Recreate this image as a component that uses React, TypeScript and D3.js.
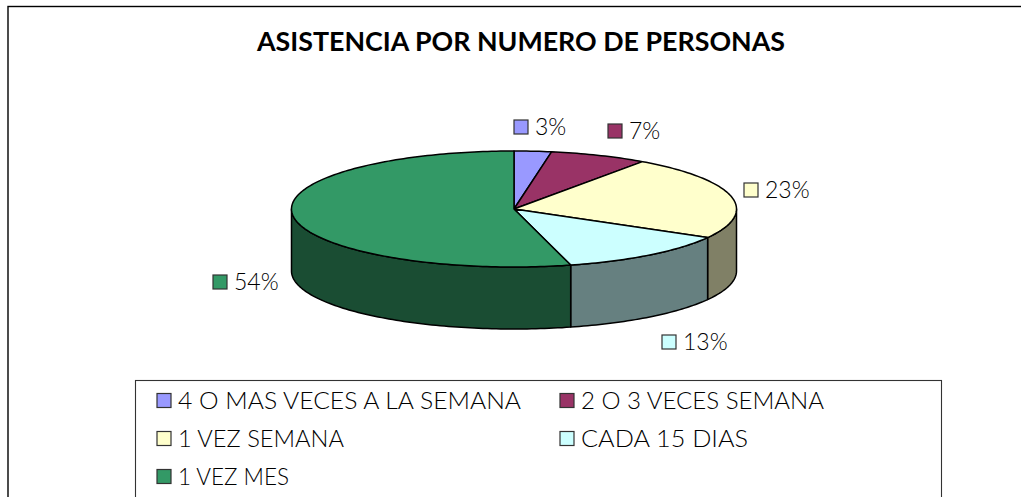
import React from 'react';
import * as d3 from 'd3';

const categories = ['4 O MAS VECES A LA SEMANA', '2 O 3 VECES SEMANA', '1 VEZ SEMANA', 'CADA 15 DIAS', '1 VEZ MES'];
const shares = [2.7, 7.1, 23.4, 12.7, 54.1];
const colors = ['#9999FF', '#993366', '#FFFFCC', '#CCFFFF', '#339966'];
const sideColors = ['#4D4D80', '#4D1A33', '#808066', '#668080', '#1A4D33'];
const title = 'ASISTENCIA POR NUMERO DE PERSONAS';

const FONT = 'Lato, "Open Sans", sans-serif';
const cx = 514, cy = 209, rx = 222.5, ry = 58, depth = 62;

// labels sit by hand next to each slice, same as the office chart
const labelPos = [[514, 127], [608, 131], [744, 190], [662, 342], [213, 282]];
const legendPos = [[157, 401], [560, 401], [157, 439], [560, 439], [157, 477]];
// the original font is wider than Lato, so stretch the legend to the same widths
const legendWidths = [343, 243, 166, 167, 111];

const pt = (a: number, dy = 0): [number, number] => [cx + rx * Math.sin(a), cy - ry * Math.cos(a) + dy];
const line = d3.line();

function rim(a0: number, a1: number, dy = 0) {
  const n = Math.max(2, Math.ceil((a1 - a0) / 0.02));
  return d3.range(n + 1).map(i => pt(a0 + (a1 - a0) * i / n, dy));
}

export default function App() {
  const arcs = d3.pie<number>().sort(null)(shares);

  // front wall only shows between 90deg and 270deg
  const lo = Math.PI / 2, hi = Math.PI * 1.5;
  const walls = arcs
    .map((d, i) => ({ a0: Math.max(d.startAngle, lo), a1: Math.min(d.endAngle, hi), i }))
    .filter(d => d.a1 > d.a0);

  return (
    <svg width={1021} height={497} style={{ position: 'absolute', left: 0, top: 0, background: '#fff' }} fontFamily={FONT}>
      {/* frame runs off the right and bottom of the picture */}
      <rect x={8} y={6.5} width={1040} height={540} fill="#fff" stroke="#000" strokeWidth={1.4} />
      <text x={521} y={51} textAnchor="middle" fontSize={27} fontWeight={700} fill="#000" textLength={528} lengthAdjust="spacingAndGlyphs">{title}</text>

      {walls.map(w => (
        <path key={w.i}
          d={line([...rim(w.a0, w.a1), ...rim(w.a0, w.a1, depth).reverse()]) + 'Z'}
          fill={sideColors[w.i]} stroke="#000" strokeWidth={1.5} strokeLinejoin="round" />
      ))}
      {arcs.map((d, i) => (
        <path key={i}
          d={line([[cx, cy], ...rim(d.startAngle, d.endAngle)]) + 'Z'}
          fill={colors[i]} stroke="#000" strokeWidth={1.5} strokeLinejoin="round" />
      ))}

      {shares.map((v, i) => (
        <g key={i} transform={`translate(${labelPos[i][0]},${labelPos[i][1]})`}>
          <rect x={0} y={-7} width={14} height={14} fill={colors[i]} stroke="#333" strokeWidth={1.2} />
          <text x={21} y={8} fontSize={23} fontWeight={300} fill="#000">{Math.round(v)}%</text>
        </g>
      ))}

      <rect x={135.5} y={380.5} width={806} height={160} fill="#fff" stroke="#333" strokeWidth={1.1} />
      {categories.map((c, i) => (
        <g key={c} transform={`translate(${legendPos[i][0]},${legendPos[i][1]})`}>
          <rect x={0} y={-7.5} width={14} height={14} fill={colors[i]} stroke="#333" strokeWidth={1.2} />
          <text x={21} y={8} fontSize={23} fontWeight={300} fill="#000" textLength={legendWidths[i]} lengthAdjust="spacingAndGlyphs">{c}</text>
        </g>
      ))}
    </svg>
  );
}
